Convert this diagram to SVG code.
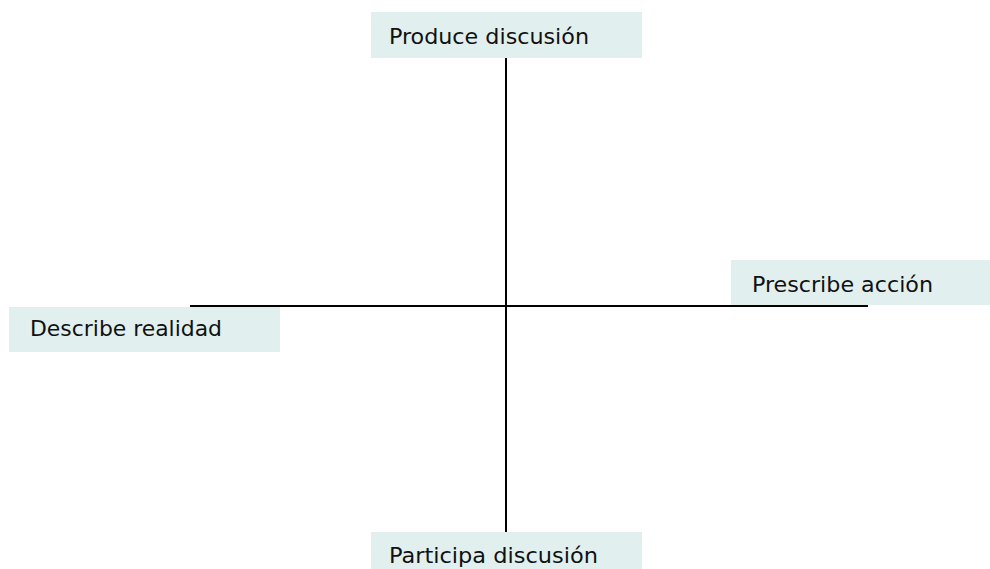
<svg xmlns="http://www.w3.org/2000/svg" width="990" height="569" viewBox="0 0 990 569">
<style>
.box{fill:#e1f0ef}
.lbl{font-family:"DejaVu Sans Condensed","DejaVu Sans","Liberation Sans",sans-serif;font-size:22px;fill:#111}
.ax{stroke:#000;stroke-width:2;fill:none}
</style>
<rect width="990" height="569" fill="#fff"/>
<g id="connectors">
<line class="ax" x1="506" y1="58" x2="506" y2="532"/>
<line class="ax" x1="190" y1="306" x2="868" y2="306"/>
</g>
<g id="top">
<rect class="box" x="371" y="12" width="271" height="46"/>
<text class="lbl" x="389" y="44" textLength="200" lengthAdjust="spacingAndGlyphs">Produce discusión</text>
</g>
<g id="left">
<rect class="box" x="9" y="307" width="271" height="45"/>
<text class="lbl" x="30" y="336" textLength="192" lengthAdjust="spacingAndGlyphs">Describe realidad</text>
</g>
<g id="right">
<rect class="box" x="731" y="260" width="259" height="45"/>
<text class="lbl" x="752" y="292" textLength="181" lengthAdjust="spacingAndGlyphs">Prescribe acción</text>
</g>
<g id="bottom">
<rect class="box" x="371" y="532" width="271" height="37"/>
<text class="lbl" x="389" y="563" textLength="209" lengthAdjust="spacingAndGlyphs">Participa discusión</text>
</g>
</svg>
